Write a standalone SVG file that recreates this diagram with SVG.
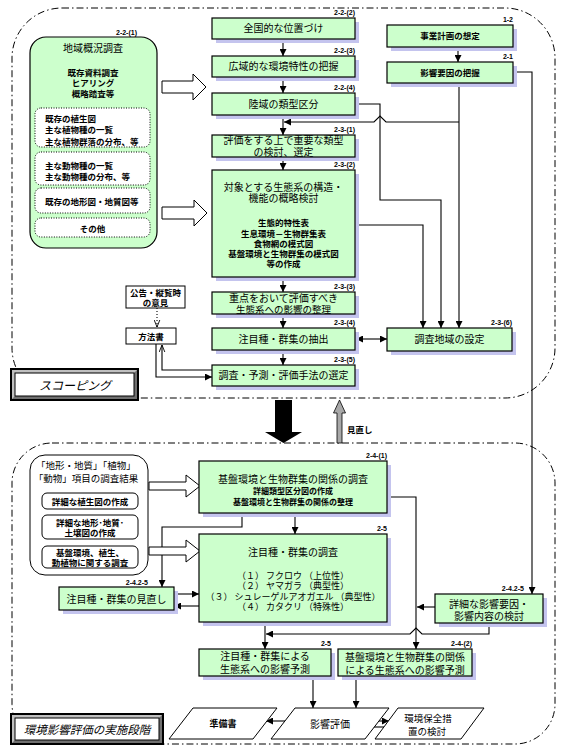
<svg xmlns="http://www.w3.org/2000/svg" width="563" height="752" viewBox="0 0 563 752">
<style>
.bx{fill:#ccffcc;stroke:#000;stroke-width:1.2}
.sh{fill:#c4c4ee}
.t{font-family:"Noto Sans CJK JP","Noto Sans CJK SC",sans-serif;font-size:10px;fill:#000;text-anchor:middle}
.s{font-size:8.5px;font-weight:bold}
.l{text-anchor:start}
.n{font-family:"Liberation Sans",sans-serif;font-size:7px;font-weight:bold;text-anchor:end;fill:#000}
.ln{fill:none;stroke:#000;stroke-width:1.1}
.dd{fill:none;stroke:#000;stroke-width:1;stroke-dasharray:7 3 1.5 3}
.wb{fill:#fff;stroke:#000;stroke-width:1}
.dot{fill:#fff;stroke:#000;stroke-width:1;stroke-dasharray:1 1.5}
.hol{fill:#fff;stroke:#000;stroke-width:1}
</style>
<defs>
<marker id="ah" viewBox="0 0 10 10" refX="10" refY="5" markerWidth="7" markerHeight="7" markerUnits="userSpaceOnUse" orient="auto-start-reverse"><path d="M0,0 L10,5 L0,10 z" fill="#000"/></marker>
<marker id="oa" viewBox="0 0 10 10" refX="10" refY="5" markerWidth="7" markerHeight="7" markerUnits="userSpaceOnUse" orient="auto"><path d="M0,1 L10,5 L0,9" fill="none" stroke="#000" stroke-width="1.3"/></marker>
</defs>
<rect width="563" height="752" fill="#fff"/>

<g id="regions">
<rect class="dd" x="12" y="8" width="543" height="390" rx="50"/>
<rect class="dd" x="12" y="443" width="543" height="301" rx="40"/>
</g>

<g id="connectors">
<!-- column arrows -->
<path class="ln" marker-end="url(#ah)" d="M283,39 V56"/>
<path class="ln" marker-end="url(#ah)" d="M283,77 V93"/>
<path class="ln" marker-end="url(#ah)" d="M283,115 V135"/>
<path class="ln" marker-end="url(#ah)" d="M283,157 V170"/>
<path class="ln" marker-end="url(#ah)" d="M283,277 V292"/>
<path class="ln" marker-end="url(#ah)" d="M283,314 V328"/>
<path class="ln" marker-end="url(#ah)" d="M283,350 V365"/>
<path class="ln" marker-end="url(#ah)" d="M458,47 V62"/>
<!-- right side -->
<path class="ln" marker-end="url(#ah)" d="M459,83 V328"/>
<path class="ln" marker-end="url(#ah)" d="M459,122 H386 L380,116 L374,122 H284"/>
<path class="ln" marker-end="url(#ah)" d="M355,104 H380 V200 H441 V328"/>
<path class="ln" marker-end="url(#ah)" d="M355,225 H423 V328"/>
<path class="ln" marker-end="url(#ah)" d="M513,72 H532 V594"/>
<path class="ln" marker-start="url(#ah)" marker-end="url(#ah)" d="M356,339 H387"/>
<!-- 方法書 -->
<path class="ln" stroke-dasharray="1 2" marker-end="url(#oa)" d="M157,308 V327"/>
<path class="ln" marker-end="url(#ah)" d="M156,344 V377 H212"/>
<path class="ln" marker-end="url(#oa)" d="M212,370 H162 V345"/>
<!-- bottom -->
<path class="ln" marker-end="url(#ah)" d="M242,513 V527 H162 V587"/>
<path class="ln" marker-end="url(#ah)" d="M295,513 V534"/>
<path class="ln" marker-end="url(#ah)" d="M174,594 H199"/>
<path class="ln" marker-end="url(#ah)" d="M199,606 H174"/>
<path class="ln" marker-end="url(#ah)" d="M387,497 H416 V649"/>
<path class="ln" marker-end="url(#ah)" d="M435,607 H417"/>
<path class="ln" marker-end="url(#ah)" d="M489,623 V634 H422 L416,628 L410,634 H266"/>
<path class="ln" marker-end="url(#ah)" d="M265,622 V649"/>
<path class="ln" marker-end="url(#ah)" d="M313,676 V708"/>
<path class="ln" marker-end="url(#ah)" d="M356,676 V708"/>
<path class="ln" marker-end="url(#ah)" d="M288,721 H266"/>
<path class="ln" marker-end="url(#ah)" d="M371,721 H389"/>
<path class="ln" marker-end="url(#ah)" d="M384,727 H365"/>
<!-- hollow arrows -->
<path class="hol" d="M162,81 H193 V74 L206,87 L193,100 V93 H162 Z"/>
<path class="hol" d="M162,207 H194 V200 L207,213 L194,226 V219 H162 Z"/>
<path class="hol" d="M149,482 H186 V475 L200,486 L186,497 V490 H149 Z"/>
<path class="hol" d="M149,547 H186 V540 L200,551 L186,562 V555 H149 Z"/>
<!-- phase arrows -->
<path d="M275,400 H292 V432 H302 L283.5,443 L265,432 H275 Z" fill="#000"/>
<path d="M337,443 V413 H333.5 L339.5,400 L345.5,413 H342 V443 Z" fill="#a8a8a8" stroke="#000" stroke-width="0.8"/>
<text class="t s l" x="347" y="433">見直し</text>
</g>

<g id="n-chiiki">
<rect x="30" y="37" width="127" height="211" rx="16" fill="#ccffcc" stroke="#000" stroke-width="1.2"/>
<text class="n" x="137" y="35">2-2-(1)</text>
<text class="t" x="93" y="52">地域概況調査</text>
<text class="t s" x="93" y="75.5">既存資料調査</text>
<text class="t s" x="93" y="86">ヒアリング</text>
<text class="t s" x="93" y="96.5">概略踏査等</text>
<rect class="dot" x="35" y="108" width="115" height="39" rx="6"/>
<text class="t s l" x="45" y="121.5">既存の植生図</text>
<text class="t s l" x="45" y="133">主な植物種の一覧</text>
<text class="t s l" x="45" y="144.5">主な植物群落の分布、等</text>
<rect class="dot" x="35" y="152" width="115" height="33" rx="6"/>
<text class="t s l" x="45" y="168.5">主な動物種の一覧</text>
<text class="t s l" x="45" y="179.5">主な動物種の分布、等</text>
<rect class="dot" x="35" y="188" width="115" height="25" rx="6"/>
<text class="t s l" x="45" y="205">既存の地形図・地質図等</text>
<rect class="dot" x="35" y="218" width="115" height="19" rx="6"/>
<text class="t s" x="92.5" y="232">その他</text>
</g>

<g id="n-zenkoku"><rect class="sh" x="216" y="22" width="143" height="21"/><rect class="bx" x="212" y="18" width="143" height="21"/><text class="n" x="355" y="15">2-2-(2)</text><text class="t" x="283.5" y="32">全国的な位置づけ</text></g>
<g id="n-kouiki"><rect class="sh" x="216" y="60" width="143" height="21"/><rect class="bx" x="212" y="56" width="143" height="21"/><text class="n" x="355" y="53">2-2-(3)</text><text class="t" x="283.5" y="70">広域的な環境特性の把握</text></g>
<g id="n-rikuiki"><rect class="sh" x="216" y="97" width="143" height="22"/><rect class="bx" x="212" y="93" width="143" height="22"/><text class="n" x="355" y="90">2-2-(4)</text><text class="t" x="283.5" y="107.5">陸域の類型区分</text></g>
<g id="n-hyouka"><rect class="sh" x="216" y="139" width="143" height="22"/><rect class="bx" x="212" y="135" width="143" height="22"/><text class="n" x="355" y="132">2-3-(1)</text><text class="t" x="283.5" y="144">評価をする上で重要な類型</text><text class="t" x="283.5" y="155.5">の検討、選定</text></g>
<g id="n-taishou"><rect class="sh" x="216" y="174" width="143" height="107"/><rect class="bx" x="212" y="170" width="143" height="107"/><text class="n" x="355" y="167">2-3-(2)</text>
<text class="t" x="283.5" y="190.5">対象とする生態系の構造・</text>
<text class="t" x="283.5" y="202">機能の概略検討</text>
<text class="t s" x="283.5" y="226">生態的特性表</text>
<text class="t s" x="283.5" y="236.5">生息環境－生物群集表</text>
<text class="t s" x="283.5" y="246.5">食物網の模式図</text>
<text class="t s" x="283.5" y="256.5">基盤環境と生物群集の模式図</text>
<text class="t s" x="283.5" y="267">等の作成</text></g>
<g id="n-juuten"><rect class="sh" x="216" y="296" width="143" height="22"/><rect class="bx" x="212" y="292" width="143" height="22"/><text class="n" x="355" y="289">2-3-(3)</text><text class="t" x="283.5" y="301.5">重点をおいて評価すべき</text><text class="t" x="283.5" y="312.5" style="font-size:9.5px">生態系への影響の整理</text></g>
<g id="n-chuumoku"><rect class="sh" x="216" y="332" width="143" height="22"/><rect class="bx" x="212" y="328" width="143" height="22"/><text class="n" x="355" y="325">2-3-(4)</text><text class="t" x="283.5" y="342.5">注目種・群集の抽出</text></g>
<g id="n-sentei"><rect class="sh" x="216" y="369" width="143" height="21"/><rect class="bx" x="212" y="365" width="143" height="21"/><text class="n" x="355" y="362">2-3-(5)</text><text class="t" x="283.5" y="379">調査・予測・評価手法の選定</text></g>
<g id="n-jigyou"><rect class="sh" x="391" y="29" width="126" height="22"/><rect class="bx" x="387" y="25" width="126" height="22"/><text class="n" x="513" y="22">1-2</text><text class="t s" x="450" y="39">事業計画の想定</text></g>
<g id="n-youin"><rect class="sh" x="391" y="66" width="126" height="21"/><rect class="bx" x="387" y="62" width="126" height="21"/><text class="n" x="513" y="59">2-1</text><text class="t s" x="450" y="75.5">影響要因の把握</text></g>
<g id="n-chiiki-settei"><rect class="sh" x="391" y="332" width="125" height="23"/><rect class="bx" x="387" y="328" width="125" height="23"/><text class="n" x="512" y="325">2-3-(6)</text><text class="t" x="449.5" y="343">調査地域の設定</text></g>

<g id="n-koukoku"><rect class="wb" x="126" y="286" width="59" height="22"/><text class="t s" x="155.5" y="296">公告・縦覧時</text><text class="t s" x="155.5" y="306">の意見</text></g>
<g id="n-houhou"><rect class="wb" x="126" y="328" width="50" height="16"/><text class="t s" x="151" y="339.5">方法書</text></g>

<g id="n-scoping">
<rect x="11" y="369" width="127" height="31" fill="#c0c0c0" stroke="#000" stroke-width="2"/>
<path d="M134,373 L137,370 V399 H12 L15,396 H134 Z" fill="#707070"/>
<rect x="15" y="373" width="119" height="23" fill="#fff" stroke="#000" stroke-width="1"/>
<text class="t" x="75" y="390" style="font-size:12px;font-style:italic">スコーピング</text>
</g>

<g id="n-kekka">
<rect class="wb" x="30" y="455" width="118" height="120" rx="15"/>
<text class="t" x="86" y="469" style="font-size:9.5px">「地形・地質」「植物」</text>
<text class="t" x="86" y="482" style="font-size:9.5px">「動物」項目の調査結果</text>
<rect class="wb" x="42" y="493" width="96" height="16" rx="5"/>
<text class="t s" x="90" y="504.5">詳細な植生図の作成</text>
<rect class="wb" x="42" y="515" width="96" height="24" rx="5"/>
<text class="t s" x="90" y="525.5">詳細な地形･地質･</text>
<text class="t s" x="90" y="536">土壌図の作成</text>
<rect class="wb" x="42" y="546" width="96" height="22" rx="5"/>
<text class="t s" x="90" y="555.5">基盤環境、植生、</text>
<text class="t s" x="90" y="566">動植物に関する調査</text>
</g>

<g id="n-kiban-chousa"><rect class="sh" x="203" y="465" width="188" height="52"/><rect class="bx" x="199" y="461" width="188" height="52"/><text class="n" x="387" y="458">2-4-(1)</text>
<text class="t" x="293" y="483">基盤環境と生物群集の関係の調査</text>
<text class="t s" x="293" y="494" style="font-size:8px">詳細類型区分図の作成</text>
<text class="t s" x="293" y="504.5" style="font-size:8px">基盤環境と生物群集の関係の整理</text></g>
<g id="n-chuumoku-chousa"><rect class="sh" x="203" y="538" width="188" height="88"/><rect class="bx" x="199" y="534" width="188" height="88"/><text class="n" x="387" y="531">2-5</text>
<text class="t" x="293" y="556">注目種・群集の調査</text>
<text class="t" x="293" y="578.5" style="font-size:9px">（１） フクロウ （上位性）</text>
<text class="t" x="293" y="589" style="font-size:9px">（２） ヤマガラ （典型性）</text>
<text class="t" x="293" y="599.5" style="font-size:9px">（３） シュレーゲルアオガエル （典型性）</text>
<text class="t" x="293" y="610" style="font-size:9px">（４） カタクリ （特殊性）</text></g>
<g id="n-minaoshi"><rect class="sh" x="63" y="591" width="115" height="23"/><rect class="bx" x="59" y="587" width="115" height="23"/><text class="n" x="148" y="585">2-4.2-5</text><text class="t" x="116.5" y="602.5">注目種・群集の見直し</text></g>
<g id="n-shousai"><rect class="sh" x="439" y="598" width="108" height="29"/><rect class="bx" x="435" y="594" width="108" height="29"/><text class="n" x="524" y="591">2-4.2-5</text><text class="t" x="489" y="607.5">詳細な影響要因・</text><text class="t" x="489" y="619.5">影響内容の検討</text></g>
<g id="n-yosoku1"><rect class="sh" x="203" y="653" width="132" height="27"/><rect class="bx" x="199" y="649" width="132" height="27"/><text class="n" x="331" y="646">2-5</text><text class="t" x="265" y="660">注目種・群集による</text><text class="t" x="265" y="673">生態系への影響予測</text></g>
<g id="n-yosoku2"><rect class="sh" x="342" y="653" width="134" height="27"/><rect class="bx" x="338" y="649" width="134" height="27"/><text class="n" x="472" y="646">2-4-(2)</text><text class="t" x="405" y="661">基盤環境と生物群集の関係</text><text class="t" x="405" y="674">による生態系への影響予測</text></g>

<g id="n-junbisho"><path class="wb" d="M193,708 H277 L253,739 H169 Z"/><text class="t s" x="223" y="727" style="font-size:9px">準備書</text></g>
<g id="n-eikyou"><path class="wb" d="M295,708 H389 L365,739 H271 Z"/><text class="t" x="330" y="727.5">影響評価</text></g>
<g id="n-hozen"><path class="wb" d="M398,708 H484 L461,739 H375 Z"/><text class="t" x="428" y="721.5" style="font-size:9.5px">環境保全措</text><text class="t" x="427" y="735" style="font-size:9.5px">置の検討</text></g>

<g id="n-jisshi">
<rect x="11" y="714" width="152" height="30" fill="#c0c0c0" stroke="#000" stroke-width="2"/>
<path d="M159,718 L162,715 V743 H12 L15,740 H159 Z" fill="#707070"/>
<rect x="15" y="718" width="144" height="22" fill="#fff" stroke="#000" stroke-width="1"/>
<text class="t" x="87" y="734" style="font-size:11.5px;font-style:italic">環境影響評価の実施段階</text>
</g>
</svg>
